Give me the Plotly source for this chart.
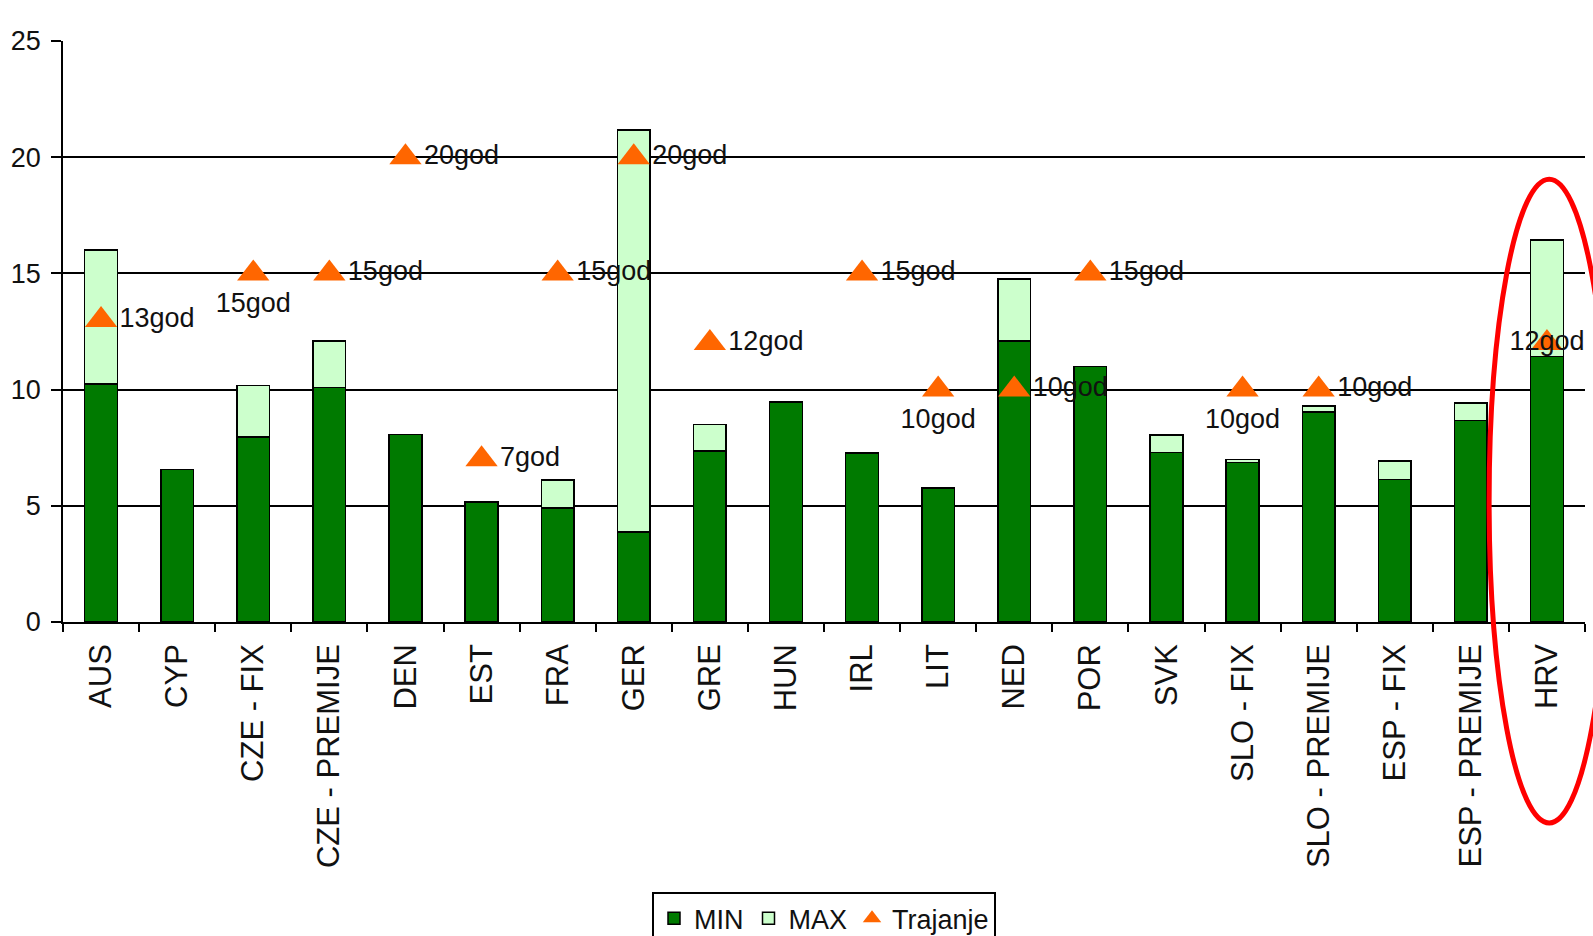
import plotly.graph_objects as go

categories = ["AUS", "CYP", "CZE - FIX", "CZE - PREMIJE", "DEN", "EST", "FRA", "GER", "GRE", "HUN",
              "IRL", "LIT", "NED", "POR", "SVK", "SLO - FIX", "SLO - PREMIJE", "ESP - FIX",
              "ESP - PREMIJE", "HRV"]
min_vals = [10.25, 6.57, 7.97, 10.08, 8.06, 5.16, 4.9, 3.88, 7.36, 9.47,
            7.27, 5.77, 12.1, 11.0, 7.3, 6.87, 9.04, 6.13, 8.67, 11.42]
max_vals = [16.0, None, 10.17, 12.1, None, None, 6.1, 21.18, 8.5, None,
            None, None, 14.77, None, 8.05, 7.0, 9.29, 6.92, 9.43, 16.44]
trajanje = [13, None, 15, 15, 20, 7, 15, 20, 12, None,
            15, 10, 10, 15, None, 10, 10, None, None, 12]
label_pos = ["middle right", "middle right", "bottom center", "middle right", "middle right",
             "middle right", "middle right", "middle right", "middle right", "middle right",
             "middle right", "bottom center", "middle right", "middle right", "middle right",
             "bottom center", "middle right", "middle right", "middle right", "middle center"]
y_ticks = [0, 5, 10, 15, 20, 25]

FONT = "Liberation Sans, Arial, sans-serif"

max_extra = [(mx - mn) if mx is not None else None for mn, mx in zip(min_vals, max_vals)]
traj_text = [f"{t}god" if t is not None else "" for t in trajanje]

fig = go.Figure()
fig.add_trace(go.Bar(
    x=categories, y=min_vals, name="MIN",
    marker=dict(color="#007A00", line=dict(color="#000000", width=1.5)),
    width=0.43,
))
fig.add_trace(go.Bar(
    x=categories, y=max_extra, name="MAX",
    marker=dict(color="#CCFFCC", line=dict(color="#000000", width=1.5)),
    width=0.43,
))
fig.add_trace(go.Scatter(
    x=categories, y=trajanje, name="Trajanje", mode="markers+text",
    marker=dict(symbol="triangle-up", size=28, color="#FF6600"),
    text=traj_text, textposition=label_pos,
    textfont=dict(family=FONT, size=27, color="#111111"),
    cliponaxis=False,
))

fig.update_layout(
    width=1593, height=936,
    barmode="stack",
    plot_bgcolor="white", paper_bgcolor="white",
    margin=dict(l=63, r=8, t=41, b=314, autoexpand=False),
    font=dict(family=FONT, size=26, color="#111111"),
    showlegend=True,
    legend=dict(
        orientation="h", x=0.5, xanchor="center", y=-0.465, yanchor="top",
        bordercolor="#000000", borderwidth=2, bgcolor="white",
        font=dict(family=FONT, size=27, color="#111111"),
        traceorder="normal", itemwidth=30,
    ),
    xaxis=dict(
        type="category", range=[-0.5, 19.5], autorange=False,
        tickangle=-90, tickson="boundaries", automargin=False,
        ticks="outside", ticklen=8, tickcolor="#000000", tickwidth=1.5,
        showline=True, linecolor="#000000", linewidth=1.5,
        showgrid=False, ticklabelstandoff=8,
        tickfont=dict(family=FONT, size=31, color="#111111"),
    ),
    yaxis=dict(
        range=[0, 25], autorange=False, tickvals=y_ticks, automargin=False,
        ticks="outside", ticklen=10, tickcolor="#000000", tickwidth=1.5,
        showline=True, linecolor="#000000", linewidth=1.5,
        showgrid=True, gridcolor="#000000", gridwidth=1.5,
        zeroline=False, ticklabelstandoff=5,
        tickfont=dict(family=FONT, size=27, color="#111111"),
    ),
    shapes=[dict(
        type="circle", xref="paper", yref="paper",
        x0=0.937, x1=1.016, y0=-0.346, y1=0.762,
        line=dict(color="#FF0000", width=5), layer="above",
    )],
)

fig.write_html(
    "out.html",
    config={"responsive": False, "displayModeBar": False},
    post_script="document.body.style.margin='0';document.body.style.overflow='hidden';",
)
